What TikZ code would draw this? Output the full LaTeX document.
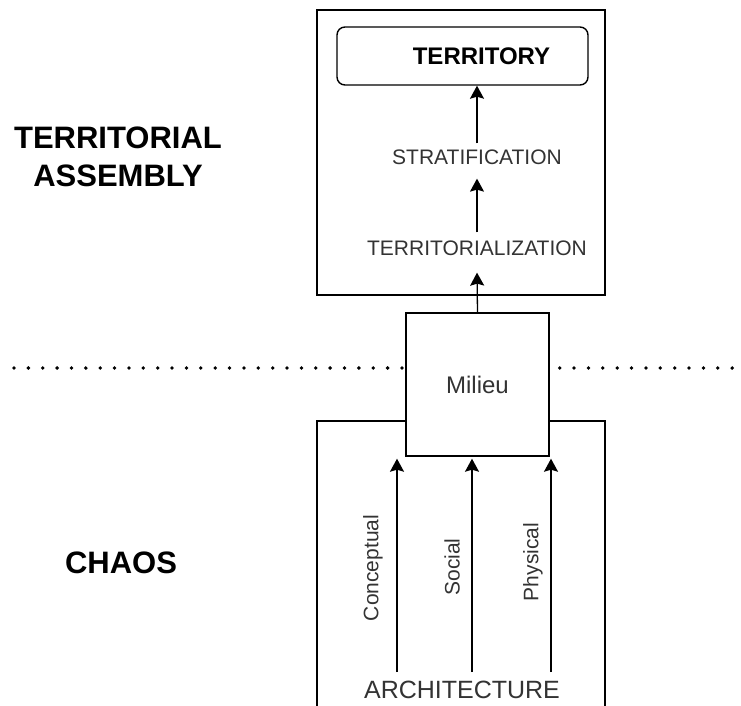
\documentclass[tikz,border=0pt]{standalone}
\usepackage{fontspec}
\setmainfont{Liberation Sans}
\usetikzlibrary{arrows.meta,positioning,calc}
\definecolor{Tc}{HTML}{333333}
\tikzset{
  frame/.style={draw, line width=1.4pt, inner sep=0pt},
  lbl/.style={text=Tc, inner sep=0pt, font=\fontsize{21}{25}\selectfont},
  big/.style={font=\fontsize{31}{38}\selectfont\bfseries, align=center, inner sep=0pt},
  link/.style={-{Stealth[length=13pt, width=14pt, inset=2pt]}, line width=1.3pt},
  sep/.style={line width=3.8pt, line cap=round, dash pattern=on 0pt off 14.37pt},
}

\begin{document}
\begin{tikzpicture}[x=1pt, y=-1pt]
  \useasboundingbox (0,0) rectangle (741,706);
  % side titles
  \node[big] (tasm) at (118,157) {TERRITORIAL\\ASSEMBLY};
  \node[big] (chaos) at (121,563) {CHAOS};
  % upper frame
  \node[frame, minimum width=288pt, minimum height=285pt] (assembly) at (461,152.5) {};
  \node[frame, rounded corners=8pt, minimum width=251pt, minimum height=58pt,
        font=\fontsize{24}{28}\selectfont\bfseries] (terr) at (462.5,56) {\hspace*{38pt}TERRITORY};
  \node[lbl] (strat) at (477,157) {STRATIFICATION};
  \node[lbl] (tzn) at (477,248) {TERRITORIALIZATION};
  % lower frame, open at the bottom
  \draw[line width=1.4pt] (317,706) |- (605,421) -- (605,706);
  \node[frame, fill=white, minimum size=143pt, text=Tc,
        font=\fontsize{24}{28}\selectfont] (milieu) at (477.5,384.5) {Milieu};
  % dotted divide
  \coordinate (dl) at (14,368);
  \coordinate (dr) at (741,368);
  \draw[sep] (dl) -- (dl -| milieu.west);
  \draw[sep] ($(milieu.east |- dr)+(10,0)$) -- (dr);
  % upward links
  \draw[link] ([yshift=6pt]strat.north) -- (strat.north |- terr.south);
  \draw[link] ([yshift=8pt]tzn.north) -- ([yshift=-14pt]strat.south);
  \draw[link] (milieu.north) -- ([yshift=-17pt]tzn.south);
  % architecture and its three strands
  \node[lbl, font=\fontsize{25}{30}\selectfont] (arch) at (462,690) {ARCHITECTURE};
  \foreach \nm/\xx in {cc/397, cs/472, cp/551}
    \coordinate (\nm) at (\xx,672);
  \foreach \nm in {cc, cs, cp}
    \draw[link, shorten >=2pt] (\nm) -- (\nm |- milieu.south);
  \node[lbl, rotate=90] (concept) at (373,568) {Conceptual};
  \node[lbl, rotate=90] (social) at (452,567) {Social};
  \node[lbl, rotate=90] (phys) at (533,562) {Physical};
\end{tikzpicture}
\end{document}
